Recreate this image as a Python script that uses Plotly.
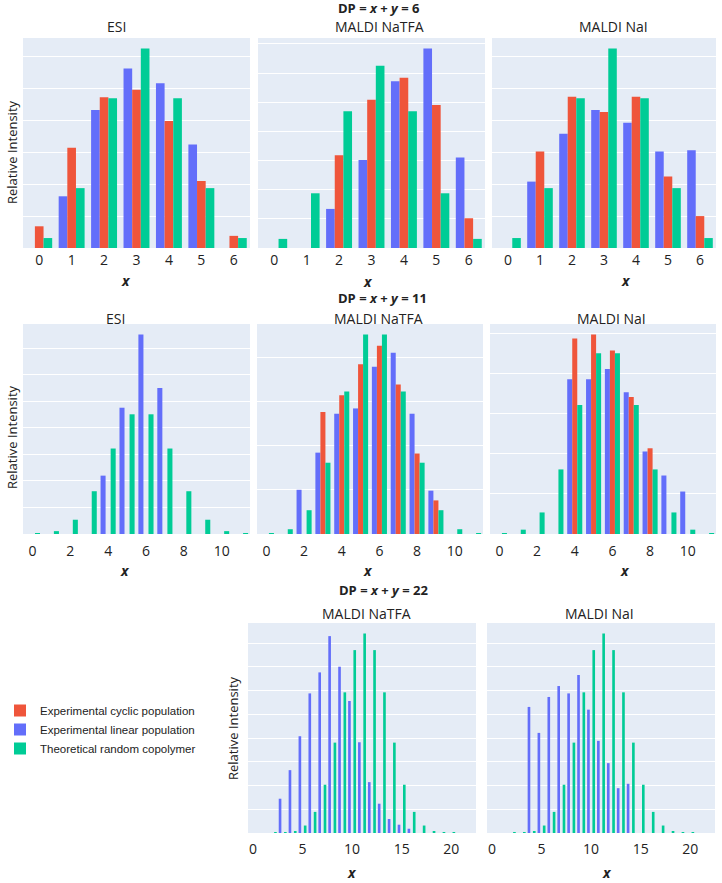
import plotly.graph_objects as go

W, H = 722, 883

# ---------------- data ----------------
x6 = [0, 1, 2, 3, 4, 5, 6]
theo6 = [0.0156, 0.0938, 0.2344, 0.3125, 0.2344, 0.0938, 0.0156]
esi6_lin = [0, 0.081, 0.216, 0.281, 0.258, 0.162, 0]
esi6_cyc = [0.034, 0.157, 0.236, 0.248, 0.199, 0.105, 0.019]
natfa6_lin = [0, 0, 0.067, 0.151, 0.286, 0.342, 0.155]
natfa6_cyc = [0, 0, 0.159, 0.254, 0.292, 0.245, 0.051]
nai6_lin = [0, 0.104, 0.179, 0.216, 0.196, 0.151, 0.153]
nai6_cyc = [0, 0.151, 0.237, 0.213, 0.237, 0.112, 0.050]

x11 = [0, 1, 2, 3, 4, 5, 6, 7, 8, 9, 10, 11]
theo11 = [0.0005, 0.0054, 0.0269, 0.0806, 0.1611, 0.2256, 0.2256, 0.1611, 0.0806, 0.0269, 0.0054, 0.0005]
esi11_lin = [0, 0, 0, 0, 0.110, 0.238, 0.376, 0.275, 0, 0, 0, 0]
esi11_cyc = [0, 0, 0, 0, 0, 0, 0, 0, 0, 0, 0, 0]
natfa11_lin = [0, 0, 0.050, 0.092, 0.136, 0.142, 0.189, 0.205, 0.136, 0.049, 0, 0]
natfa11_cyc = [0, 0, 0, 0.138, 0.157, 0.192, 0.213, 0.169, 0.091, 0.038, 0, 0]
nai11_lin = [0, 0, 0, 0, 0.193, 0.193, 0.206, 0.177, 0.103, 0.073, 0.053, 0]
nai11_cyc = [0, 0, 0, 0, 0.244, 0.249, 0.229, 0.171, 0.107, 0, 0, 0]

x22 = list(range(23))
theo22 = [0.0000, 0.0000, 0.0001, 0.0004, 0.0017, 0.0063, 0.0178, 0.0407, 0.0762, 0.1186, 0.1542, 0.1682,
          0.1542, 0.1186, 0.0762, 0.0407, 0.0178, 0.0063, 0.0017, 0.0004, 0.0001, 0.0000, 0.0000]
natfa22_lin = [0, 0, 0, 0.0289, 0.0530, 0.0816, 0.1177, 0.1354, 0.1660, 0.1402, 0.1113, 0.0765,
               0.0429, 0.0247, 0.0118, 0.0070, 0.0036, 0, 0, 0, 0, 0, 0]
natfa22_cyc = [0] * 23
nai22_lin = [0, 0, 0, 0, 0.1063, 0.0844, 0.1147, 0.1239, 0.1177, 0.1332, 0.1040, 0.0777,
             0.0589, 0.0378, 0.0415, 0, 0, 0, 0, 0, 0, 0, 0]
nai22_cyc = [0] * 23

series_names = ["Experimental linear population", "Experimental cyclic population", "Theoretical random copolymer"]
colors = ["#636EFA", "#EF553B", "#00CC96"]
ranks = [2, 1, 3]

panels = [
    # (x, linear, cyclic, theo, tickvals, y grid step, label standoff, pixel box x0,x1,y0,y1)
    (x6, esi6_lin, esi6_cyc, theo6, [0, 1, 2, 3, 4, 5, 6], 0.05, 2, (23, 250, 38, 248)),
    (x6, natfa6_lin, natfa6_cyc, theo6, [0, 1, 2, 3, 4, 5, 6], 0.05, 2, (258, 485, 38, 248)),
    (x6, nai6_lin, nai6_cyc, theo6, [0, 1, 2, 3, 4, 5, 6], 0.05, 2, (492, 716, 38, 248)),
    (x11, esi11_lin, esi11_cyc, theo11, [0, 2, 4, 6, 8, 10], 0.05, 7, (23, 250, 324, 534)),
    (x11, natfa11_lin, natfa11_cyc, theo11, [0, 2, 4, 6, 8, 10], 0.05, 7, (257, 483, 324, 534)),
    (x11, nai11_lin, nai11_cyc, theo11, [0, 2, 4, 6, 8, 10], 0.05, 7, (490, 716, 324, 534)),
    (x22, natfa22_lin, natfa22_cyc, theo22, [0, 5, 10, 15, 20], 0.02, 6, (248, 476, 623, 833)),
    (x22, nai22_lin, nai22_cyc, theo22, [0, 5, 10, 15, 20], 0.02, 6, (487, 715, 623, 833)),
]


def px(v):
    return v / W


def py(v):
    return 1 - v / H


TXT = "#222222"
fig = go.Figure()
layout = dict(
    width=W, height=H, margin=dict(l=0, r=0, t=0, b=0),
    barmode="group", paper_bgcolor="white", plot_bgcolor="#E5ECF6",
    font=dict(family="Open Sans", size=13, color=TXT),
    showlegend=True,
    legend=dict(x=px(0), y=py(696), xanchor="left", yanchor="top",
                font=dict(family="Liberation Sans, Arial", size=11.5, color="#222222"),
                bgcolor="rgba(0,0,0,0)"),
)

for i, (xs, lin, cyc, theo, tv, dt, stand, box) in enumerate(panels, start=1):
    sfx = "" if i == 1 else str(i)
    for k, ys in enumerate([lin, cyc, theo]):
        fig.add_trace(go.Bar(
            x=xs, y=ys, name=series_names[k], marker=dict(color=colors[k], line=dict(width=0)),
            xaxis="x" + sfx, yaxis="y" + sfx, showlegend=(i == 1), legendrank=ranks[k],
        ))
    x0, x1, y0, y1 = box
    layout["xaxis" + sfx] = dict(
        domain=[px(x0), px(x1)], anchor="y" + sfx, tickmode="array", tickvals=tv,
        showgrid=False, zeroline=False, tickfont=dict(size=14, color=TXT),
        ticklabelstandoff=stand,
    )
    layout["yaxis" + sfx] = dict(
        domain=[py(y1), py(y0)], anchor="x" + sfx, showticklabels=False,
        gridcolor="white", zeroline=False, rangemode="tozero", dtick=dt, tick0=0,
    )

ann = []


def add_text(text, x, y, size=13, **kw):
    ann.append(dict(text=text, x=px(x), y=py(y), xref="paper", yref="paper", showarrow=False,
                    xanchor="center", yanchor="middle", font=dict(size=size, color=TXT), **kw))


# row titles
add_text("<b>DP = <i>x</i> + <i>y</i> = 6</b>", 379, 8)
add_text("<b>DP = <i>x</i> + <i>y</i> = 11</b>", 382, 298)
add_text("<b>DP = <i>x</i> + <i>y</i> = 22</b>", 383, 590)
# panel titles
for (t, xx, yy) in [("ESI", 116, 27), ("MALDI NaTFA", 379, 27), ("MALDI NaI", 613, 27),
                    ("ESI", 115, 318), ("MALDI NaTFA", 378, 318), ("MALDI NaI", 611, 318),
                    ("MALDI NaTFA", 366, 613), ("MALDI NaI", 599, 613)]:
    add_text(t, xx, yy, size=14)
# x axis labels
for (xx, yy) in [(126, 280), (368, 281), (626, 280), (125, 570), (368, 570), (625, 570), (352, 872), (607, 872)]:
    add_text("<b><i>x</i></b>", xx, yy, size=14)
# y axis labels
add_text("Relative Intensity", 12, 152, textangle=-90)
add_text("Relative Intensity", 12, 437, textangle=-90)
add_text("Relative Intensity", 233, 728, textangle=-90)

layout["annotations"] = ann
fig.update_layout(**layout)
fig.write_html("out.html", config={"responsive": False, "displayModeBar": False},
               post_script="document.body.style.margin='0';document.body.style.padding='0';")
